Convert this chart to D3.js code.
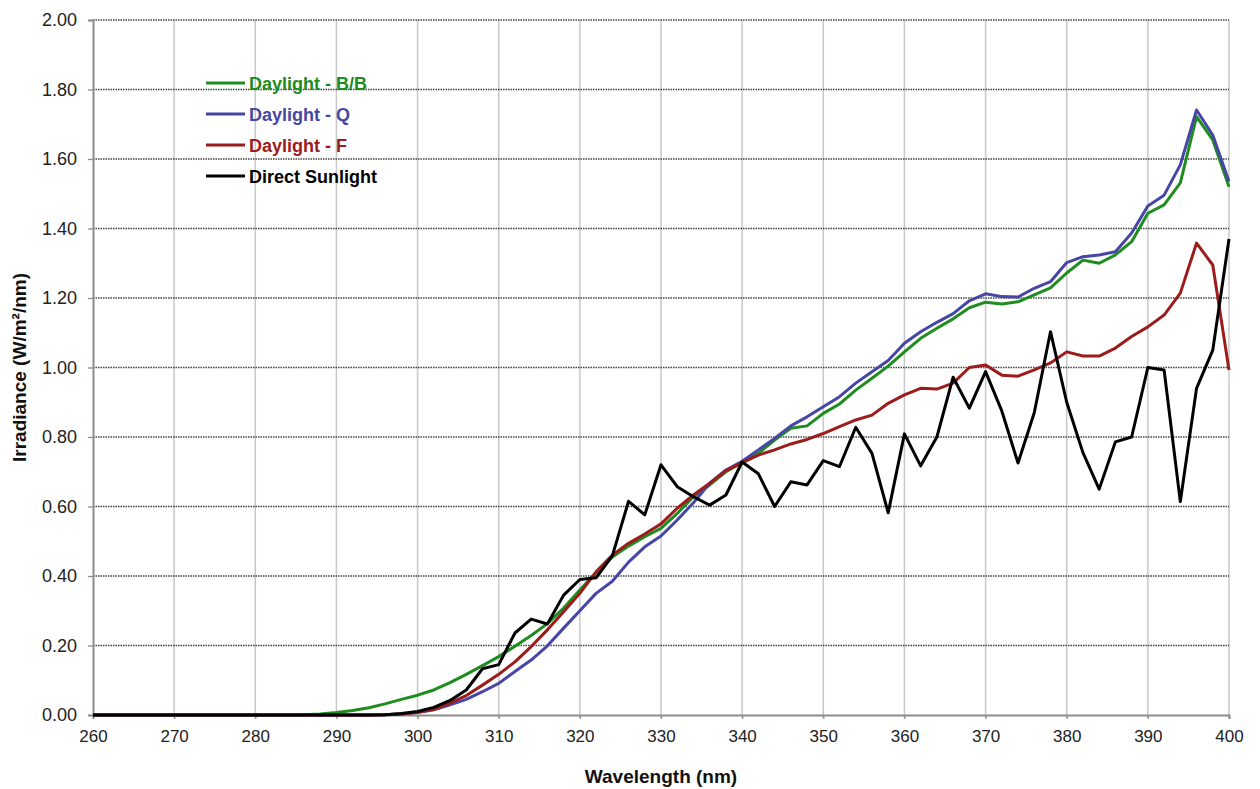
<!DOCTYPE html>
<html>
<head>
<meta charset="utf-8">
<script src="https://cdn.jsdelivr.net/npm/d3@7"></script>
<style>
  html, body { margin: 0; padding: 0; background: #fff; }
  svg { display: block; font-family: 'Liberation Sans', Arial, sans-serif; }
</style>
</head>
<body>
<svg id="chart" width="1260" height="789"></svg>
<script>
// Wavelength samples (nm), 2 nm steps
const wavelengths = [
  260, 262, 264, 266, 268, 270, 272, 274, 276, 278,
  280, 282, 284, 286, 288, 290, 292, 294, 296, 298,
  300, 302, 304, 306, 308, 310, 312, 314, 316, 318,
  320, 322, 324, 326, 328, 330, 332, 334, 336, 338,
  340, 342, 344, 346, 348, 350, 352, 354, 356, 358,
  360, 362, 364, 366, 368, 370, 372, 374, 376, 378,
  380, 382, 384, 386, 388, 390, 392, 394, 396, 398,
  400
];

// Irradiance (W/m²/nm)
const daylightBB = [
  0, 0, 0, 0, 0, 0, 0, 0, 0, 0,
  0, 0, 0, 0.001, 0.003, 0.007, 0.013, 0.021, 0.032, 0.045,
  0.057, 0.072, 0.093, 0.117, 0.142, 0.168, 0.198, 0.229, 0.263, 0.308,
  0.36, 0.41, 0.455, 0.486, 0.513, 0.537, 0.58, 0.628, 0.662, 0.7,
  0.726, 0.753, 0.791, 0.825, 0.832, 0.868, 0.895, 0.935, 0.969, 1.004,
  1.045, 1.084, 1.113, 1.14, 1.172, 1.188, 1.183, 1.189, 1.209, 1.229,
  1.272, 1.309, 1.3, 1.324, 1.362, 1.444, 1.468, 1.531, 1.722, 1.655,
  1.52
];

const daylightQ = [
  0, 0, 0, 0, 0, 0, 0, 0, 0, 0,
  0, 0, 0, 0, 0, 0, 0, 0, 0.001, 0.003,
  0.007, 0.015, 0.029, 0.045, 0.067, 0.091, 0.125, 0.158, 0.199, 0.25,
  0.3, 0.35, 0.385, 0.44, 0.484, 0.515, 0.561, 0.611, 0.667, 0.705,
  0.73, 0.763, 0.796, 0.832, 0.858, 0.887, 0.916, 0.955, 0.988, 1.02,
  1.07, 1.103, 1.13, 1.155, 1.192, 1.212, 1.204, 1.203, 1.228, 1.247,
  1.302, 1.319, 1.324, 1.333, 1.387, 1.465, 1.496, 1.583, 1.741, 1.669,
  1.535
];

const daylightF = [
  0, 0, 0, 0, 0, 0, 0, 0, 0, 0,
  0, 0, 0, 0, 0, 0, 0, 0, 0.001, 0.003,
  0.008, 0.016, 0.035, 0.056, 0.086, 0.117, 0.153, 0.197, 0.245, 0.297,
  0.35, 0.412, 0.46, 0.494, 0.521, 0.55, 0.595, 0.633, 0.667, 0.703,
  0.726, 0.748, 0.763, 0.78, 0.793, 0.81, 0.83, 0.849, 0.863, 0.897,
  0.921, 0.94, 0.938, 0.955, 1.0, 1.007, 0.978, 0.975, 0.993, 1.013,
  1.045, 1.033, 1.033, 1.056, 1.089, 1.117, 1.151, 1.214, 1.358, 1.295,
  0.993
];

const directSunlight = [
  0, 0, 0, 0, 0, 0, 0, 0, 0, 0,
  0, 0, 0, 0, 0, 0, 0, 0, 0.001, 0.004,
  0.01, 0.022, 0.042, 0.072, 0.133, 0.145, 0.236, 0.276, 0.262, 0.345,
  0.39, 0.395, 0.458, 0.615, 0.576, 0.72, 0.657, 0.628, 0.604, 0.633,
  0.728, 0.694, 0.6, 0.671, 0.662, 0.732, 0.715, 0.828, 0.753, 0.582,
  0.809, 0.717, 0.8, 0.972, 0.883, 0.988, 0.875, 0.725, 0.87, 1.103,
  0.9, 0.755, 0.65, 0.786, 0.8, 1.0, 0.993, 0.614, 0.94, 1.05,
  1.37
];

const seriesNames = ['Daylight - B/B', 'Daylight - Q', 'Daylight - F', 'Direct Sunlight'];
const seriesValues = [daylightBB, daylightQ, daylightF, directSunlight];
const seriesColors = ['#1e8c1e', '#4646a6', '#9c1c1c', '#000000'];

const xTicks = [260, 270, 280, 290, 300, 310, 320, 330, 340, 350, 360, 370, 380, 390, 400];
const yTicks = [0, 0.2, 0.4, 0.6, 0.8, 1.0, 1.2, 1.4, 1.6, 1.8, 2.0];

const width = 1260;
const height = 789;
const margin = { top: 20, right: 31, bottom: 74, left: 93 };
const innerWidth = width - margin.left - margin.right;
const innerHeight = height - margin.top - margin.bottom;

const svg = d3.select('#chart');
const chart = svg
  .append('g')
  .attr('transform', `translate(${margin.left},${margin.top})`);

const x = d3.scaleLinear().domain([260, 400]).range([0, innerWidth]);
const y = d3.scaleLinear().domain([0, 2]).range([innerHeight, 0]);

// Vertical gridlines (solid, light)
chart
  .append('g')
  .selectAll('line')
  .data(xTicks.slice(1))
  .enter()
  .append('line')
  .attr('x1', d => x(d))
  .attr('x2', d => x(d))
  .attr('y1', 0)
  .attr('y2', innerHeight + 3)
  .attr('stroke', '#c8c8c8')
  .attr('stroke-width', 1.5);

// Horizontal gridlines (dotted, dark)
chart
  .append('g')
  .selectAll('line')
  .data(yTicks.slice(1))
  .enter()
  .append('line')
  .attr('x1', 0)
  .attr('x2', innerWidth)
  .attr('y1', d => y(d))
  .attr('y2', d => y(d))
  .attr('stroke', '#444')
  .attr('stroke-width', 1.3)
  .attr('stroke-dasharray', '1.5,1');

// Axes
const xAxis = chart
  .append('g')
  .attr('transform', `translate(0,${innerHeight})`)
  .call(d3.axisBottom(x).tickValues(xTicks).tickSize(4).tickPadding(11));

const yAxis = chart
  .append('g')
  .call(
    d3.axisLeft(y)
      .tickValues(yTicks)
      .tickFormat(d3.format('.2f'))
      .tickSize(5)
      .tickPadding(11)
  );

[xAxis, yAxis].forEach(ax => {
  ax.select('.domain').attr('stroke', '#8c8c8c').attr('stroke-width', 2);
  ax.selectAll('.tick line').attr('stroke', '#8c8c8c').attr('stroke-width', 1.3);
  ax.selectAll('text')
    .attr('fill', '#222')
    .style('font-family', "'Liberation Sans', Arial, sans-serif");
});
xAxis.selectAll('text').style('font-size', '17px');
yAxis.selectAll('text').style('font-size', '18px');

// Series lines
const line = d3
  .line()
  .x((d, i) => x(wavelengths[i]))
  .y(d => y(d));

seriesValues.forEach((values, i) => {
  chart
    .append('path')
    .datum(values)
    .attr('fill', 'none')
    .attr('stroke', seriesColors[i])
    .attr('stroke-width', 3)
    .attr('stroke-linejoin', 'round')
    .attr('d', line);
});

// Legend
const legend = svg.append('g').attr('transform', 'translate(206,83)');
seriesNames.forEach((name, i) => {
  const row = legend.append('g').attr('transform', `translate(0,${i * 31})`);
  row
    .append('line')
    .attr('x1', 0)
    .attr('x2', 39)
    .attr('y1', 0)
    .attr('y2', 0)
    .attr('stroke', seriesColors[i])
    .attr('stroke-width', 3);
  row
    .append('text')
    .attr('x', 43)
    .attr('y', 6.5)
    .attr('fill', seriesColors[i])
    .style('font-size', '18px')
    .style('font-weight', 'bold')
    .text(name);
});

// Axis titles
svg
  .append('text')
  .attr('text-anchor', 'middle')
  .attr('x', margin.left + innerWidth / 2)
  .attr('y', 783)
  .attr('fill', '#111')
  .style('font-size', '19px')
  .style('font-weight', 'bold')
  .text('Wavelength (nm)');

svg
  .append('text')
  .attr('text-anchor', 'middle')
  .attr('transform', 'rotate(-90)')
  .attr('x', -(margin.top + innerHeight / 2))
  .attr('y', 26)
  .attr('fill', '#111')
  .style('font-size', '19px')
  .style('font-weight', 'bold')
  .text('Irradiance (W/m²/nm)');
</script>
</body>
</html>
